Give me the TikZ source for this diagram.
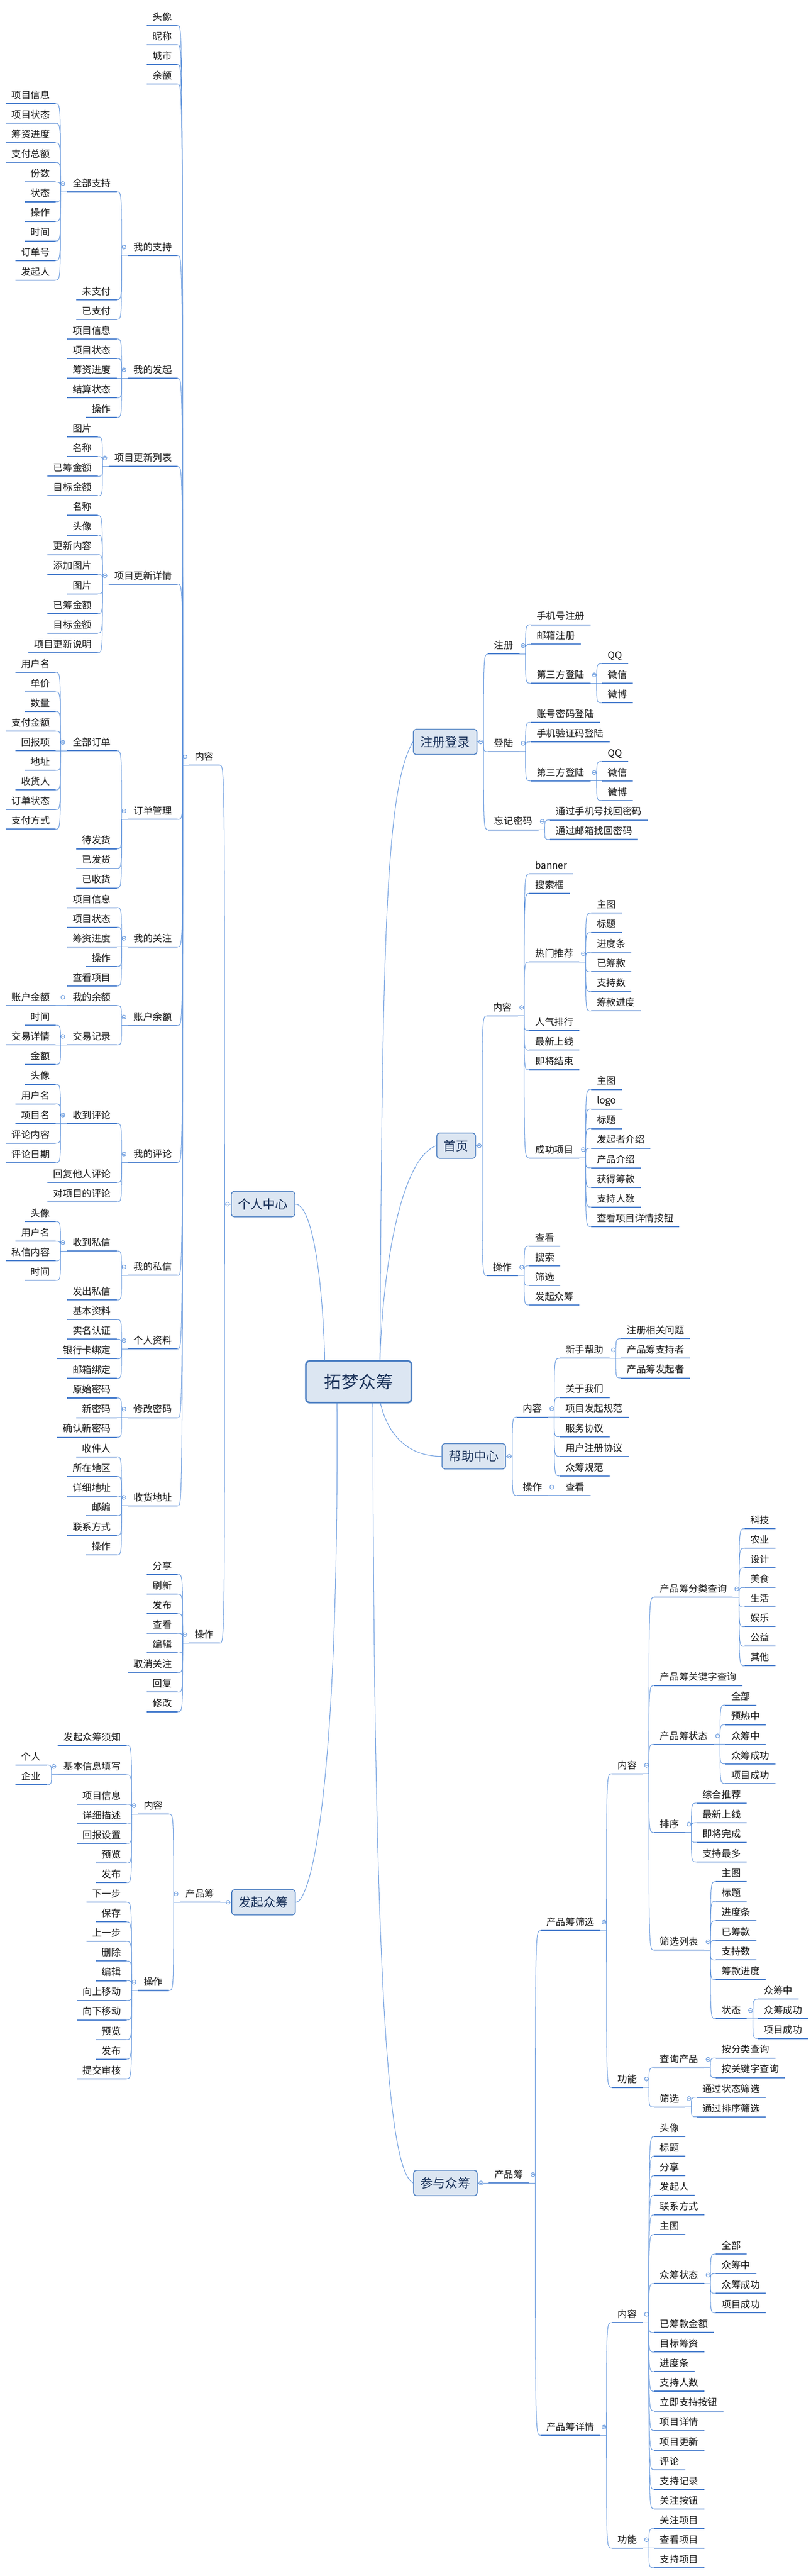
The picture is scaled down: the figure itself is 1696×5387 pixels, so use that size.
\documentclass[tikz,border=0pt]{standalone}
\usepackage{fontspec}
\newfontfamily\cjk{Noto Sans CJK SC}
\definecolor{ulc}{RGB}{79,130,207}
\definecolor{cnc}{RGB}{96,148,220}
\definecolor{boxf}{RGB}{220,230,242}
\definecolor{boxc}{RGB}{79,129,195}
\definecolor{boxt}{RGB}{26,50,90}
\newcommand\xtf{\cjk\fontsize{10pt}{12pt}\selectfont}
\newcommand\xmf{\cjk\fontsize{13pt}{15pt}\selectfont}
\newcommand\xcf{\cjk\fontsize{18pt}{21pt}\selectfont}
\tikzset{
  uline/.style={draw=ulc, line width=1.1pt},
  conn/.style={draw=cnc, line width=0.55pt},
  topic/.style={inner xsep=6pt, inner ysep=0pt, text height=9pt, text depth=5pt, font=\xtf, text=black!92},
  lnode/.style={topic, anchor=south east},
  rnode/.style={topic, anchor=south west},
  mainbox/.style={draw=boxc, line width=0.9pt, fill=boxf, rounded corners=3pt, font=\xmf, text=boxt, minimum height=26.5pt, inner xsep=7.25pt, inner ysep=0pt},
}
\newcommand\xfold[1]{\draw[conn,fill=white] (#1) circle (2.1pt); \draw[conn] ([xshift=-1.3pt]#1) -- ([xshift=1.3pt]#1);}
\newcommand\xlp[1]{\draw[conn] (#1.south west) -- ++(-13,0) coordinate (#1j);
  \path (#1.south west) ++(-8,-17.6) coordinate (#1f); \xfold{#1f}}
\newcommand\xrp[1]{\draw[conn] (#1.south east) -- ++(13,0) coordinate (#1j);
  \path (#1.south east) ++(8,-17.6) coordinate (#1f); \xfold{#1f}}
\newcommand\xlbp[1]{\draw[conn] (#1.west) -- ++(-13,0) coordinate (#1j);
  \path (#1.west) ++(-7,0) coordinate (#1f); \xfold{#1f}}
\newcommand\xrbp[1]{\draw[conn] (#1.east) -- ++(13,0) coordinate (#1j);
  \path (#1.east) ++(7,0) coordinate (#1f); \xfold{#1f}}
\newcommand\xl[4]{\path (#2.south west) ++(-23,0) coordinate (tmp); \path (0,#3) coordinate (tmpy);
  \node[lnode] (#1) at (tmp |- tmpy) {#4};
  \draw[uline] (#1.south west) -- (#1.south east);
  \draw[conn] (#2j) .. controls (#2j |- #1.south east) .. (#1.south east);}
\newcommand\xlB[4]{\path (#2.west) ++(-23,0) coordinate (tmp); \path (0,#3) coordinate (tmpy);
  \node[lnode] (#1) at (tmp |- tmpy) {#4};
  \draw[uline] (#1.south west) -- (#1.south east);
  \draw[conn] (#2j) .. controls (#2j |- #1.south east) .. (#1.south east);}
\newcommand\xr[4]{\path (#2.south east) ++(24,0) coordinate (tmp); \path (0,#3) coordinate (tmpy);
  \node[rnode] (#1) at (tmp |- tmpy) {#4};
  \draw[uline] (#1.south west) -- (#1.south east);
  \draw[conn] (#2j) .. controls (#2j |- #1.south west) .. (#1.south west);}
\newcommand\xrB[4]{\path (#2.east) ++(23,0) coordinate (tmp); \path (0,#3) coordinate (tmpy);
  \node[rnode] (#1) at (tmp |- tmpy) {#4};
  \draw[uline] (#1.south west) -- (#1.south east);
  \draw[conn] (#2j) .. controls (#2j |- #1.south west) .. (#1.south west);}
\begin{document}
\begin{tikzpicture}[x=0.5pt,y=-0.5pt]
\path[use as bounding box, fill=white] (0,0) rectangle (1696,5387);
% ---------- main boxes ----------
\node[mainbox, anchor=west] (M1) at (483,2518) {个人中心};
\node[mainbox, anchor=west] (M2) at (484,3978) {发起众筹};
\node[mainbox, anchor=west] (R1) at (864,1551.4) {注册登录};
\node[mainbox, anchor=west] (R2) at (913,2396) {首页};
\node[mainbox, anchor=west] (R3) at (924,3045.5) {帮助中心};
\node[mainbox, anchor=west] (R4) at (864.5,4565.1) {参与众筹};
% ---------- center curves ----------
\draw[conn] (795,2850) .. controls (800,2000) and (805,1650) .. (R1.west);
\draw[conn] (795,2850) .. controls (800,2650) and (840,2420) .. (R2.west);
\draw[conn] (790,2900) .. controls (800,2990) and (845,3045.5) .. (R3.west);
\draw[conn] (780,2920) .. controls (782,4200) and (815,4540) .. (R4.west);
\draw[conn] (680,2860) .. controls (675,2650) and (650,2518) .. (M1.east);
\draw[conn] (705,2920) .. controls (710,3750) and (650,3978) .. (M2.east);
\node[mainbox, font=\xcf, line width=1.8pt, rounded corners=4pt, minimum width=110.5pt, minimum height=43.5pt] (C) at (750.5,2889.6) {拓梦众筹};
% ---------- 个人中心 ----------
\xlbp{M1}
\xlB{a}{M1}{1600.4}{内容}
\xlB{b}{M1}{3436}{操作}
\xlp{a}
\xl{a1}{a}{52.7}{头像}
\xl{a2}{a}{93.7}{昵称}
\xl{a3}{a}{134.7}{城市}
\xl{a4}{a}{175.7}{余额}
\xl{a5}{a}{534.3}{我的支持}
\xl{a6}{a}{790.9}{我的发起}
\xl{a7}{a}{975.4}{项目更新列表}
\xl{a8}{a}{1221.4}{项目更新详情}
\xl{a9}{a}{1713.4}{订单管理}
\xl{aa}{a}{1980}{我的关注}
\xl{ab}{a}{2144.6}{账户余额}
\xl{ac}{a}{2431}{我的评论}
\xl{ad}{a}{2667}{我的私信}
\xl{ae}{a}{2821}{个人资料}
\xl{af}{a}{2964.5}{修改密码}
\xl{ag}{a}{3149}{收货地址}
\xlp{a5}
\xl{a5a}{a5}{401.3}{全部支持}
\xl{a5b}{a5}{626.8}{未支付}
\xl{a5c}{a5}{667.8}{已支付}
\xlp{a5a}
\xl{s1}{a5a}{216.8}{项目信息}
\xl{s2}{a5a}{257.8}{项目状态}
\xl{s3}{a5a}{298.8}{筹资进度}
\xl{s4}{a5a}{339.8}{支付总额}
\xl{s5}{a5a}{380.8}{份数}
\xl{s6}{a5a}{421.8}{状态}
\xl{s7}{a5a}{462.8}{操作}
\xl{s8}{a5a}{503.8}{时间}
\xl{s9}{a5a}{544.8}{订单号}
\xl{s10}{a5a}{585.8}{发起人}
\xlp{a6}
\xl{t1}{a6}{708.8}{项目信息}
\xl{t2}{a6}{749.9}{项目状态}
\xl{t3}{a6}{790.9}{筹资进度}
\xl{t4}{a6}{831.9}{结算状态}
\xl{t5}{a6}{872.9}{操作}
\xlp{a7}
\xl{u1}{a7}{913.9}{图片}
\xl{u2}{a7}{954.9}{名称}
\xl{u3}{a7}{995.9}{已筹金额}
\xl{u4}{a7}{1036.9}{目标金额}
\xlp{a8}
\xl{v1}{a8}{1077.9}{名称}
\xl{v2}{a8}{1118.9}{头像}
\xl{v3}{a8}{1159.9}{更新内容}
\xl{v4}{a8}{1200.9}{添加图片}
\xl{v5}{a8}{1241.9}{图片}
\xl{v6}{a8}{1282.9}{已筹金额}
\xl{v7}{a8}{1323.9}{目标金额}
\xl{v8}{a8}{1364.9}{项目更新说明}
\xlp{a9}
\xl{a9a}{a9}{1569.9}{全部订单}
\xl{a9b}{a9}{1775}{待发货}
\xl{a9c}{a9}{1816}{已发货}
\xl{a9d}{a9}{1857}{已收货}
\xlp{a9a}
\xl{w1}{a9a}{1405.9}{用户名}
\xl{w2}{a9a}{1446.9}{单价}
\xl{w3}{a9a}{1487.9}{数量}
\xl{w4}{a9a}{1528.9}{支付金额}
\xl{w5}{a9a}{1569.9}{回报项}
\xl{w6}{a9a}{1610.9}{地址}
\xl{w7}{a9a}{1651.9}{收货人}
\xl{w8}{a9a}{1692.9}{订单状态}
\xl{w9}{a9a}{1733.9}{支付方式}
\xlp{aa}
\xl{x1}{aa}{1898}{项目信息}
\xl{x2}{aa}{1939}{项目状态}
\xl{x3}{aa}{1980}{筹资进度}
\xl{x4}{aa}{2021}{操作}
\xl{x5}{aa}{2062}{查看项目}
\xlp{ab}
\xl{aba}{ab}{2103}{我的余额}
\xl{abb}{ab}{2185}{交易记录}
\xlp{aba}
\xl{y1}{aba}{2103}{账户金额}
\xlp{abb}
\xl{y2}{abb}{2144}{时间}
\xl{y3}{abb}{2185}{交易详情}
\xl{y4}{abb}{2226}{金额}
\xlp{ac}
\xl{aca}{ac}{2349.5}{收到评论}
\xl{acb}{ac}{2472.5}{回复他人评论}
\xl{acc}{ac}{2513.5}{对项目的评论}
\xlp{aca}
\xl{z1}{aca}{2267.5}{头像}
\xl{z2}{aca}{2308.5}{用户名}
\xl{z3}{aca}{2349.5}{项目名}
\xl{z4}{aca}{2390.5}{评论内容}
\xl{z5}{aca}{2431.5}{评论日期}
\xlp{ad}
\xl{ada}{ad}{2616}{收到私信}
\xl{adb}{ad}{2718.5}{发出私信}
\xlp{ada}
\xl{q1}{ada}{2554.5}{头像}
\xl{q2}{ada}{2595.5}{用户名}
\xl{q3}{ada}{2636.5}{私信内容}
\xl{q4}{ada}{2677.5}{时间}
\xlp{ae}
\xl{r1}{ae}{2759.5}{基本资料}
\xl{r2}{ae}{2800.5}{实名认证}
\xl{r3}{ae}{2841.5}{银行卡绑定}
\xl{r4}{ae}{2882.5}{邮箱绑定}
\xlp{af}
\xl{p1}{af}{2923.5}{原始密码}
\xl{p2}{af}{2964.5}{新密码}
\xl{p3}{af}{3005.5}{确认新密码}
\xlp{ag}
\xl{o1}{ag}{3046.5}{收件人}
\xl{o2}{ag}{3087.5}{所在地区}
\xl{o3}{ag}{3128.5}{详细地址}
\xl{o4}{ag}{3169.6}{邮编}
\xl{o5}{ag}{3210.6}{联系方式}
\xl{o6}{ag}{3251.6}{操作}
\xlp{b}
\xl{n1}{b}{3292.6}{分享}
\xl{n2}{b}{3333.6}{刷新}
\xl{n3}{b}{3374.6}{发布}
\xl{n4}{b}{3415.6}{查看}
\xl{n5}{b}{3456.6}{编辑}
\xl{n6}{b}{3497.6}{取消关注}
\xl{n7}{b}{3538.6}{回复}
\xl{n8}{b}{3579.6}{修改}
% ---------- 发起众筹 ----------
\xlbp{M2}
\xlB{c}{M2}{3978}{产品筹}
\xlp{c}
\xl{c1}{c}{3793.5}{内容}
\xl{c2}{c}{4162.5}{操作}
\xlp{c1}
\xl{ca}{c1}{3650}{发起众筹须知}
\xl{cb}{c1}{3711.5}{基本信息填写}
\xl{cc}{c1}{3773}{项目信息}
\xl{cd}{c1}{3814}{详细描述}
\xl{ce}{c1}{3855}{回报设置}
\xl{cf}{c1}{3896}{预览}
\xl{cg}{c1}{3937}{发布}
\xlp{cb}
\xl{cb1}{cb}{3691}{个人}
\xl{cb2}{cb}{3732}{企业}
\xlp{c2}
\xl{m1}{c2}{3978}{下一步}
\xl{m2}{c2}{4019}{保存}
\xl{m3}{c2}{4060}{上一步}
\xl{m4}{c2}{4101}{删除}
\xl{m5}{c2}{4142}{编辑}
\xl{m6}{c2}{4183}{向上移动}
\xl{m7}{c2}{4224}{向下移动}
\xl{m8}{c2}{4265}{预览}
\xl{m9}{c2}{4306}{发布}
\xl{m10}{c2}{4347}{提交审核}
% ---------- 注册登录 ----------
\xrbp{R1}
\xrB{d1}{R1}{1367.7}{注册}
\xrB{d2}{R1}{1571.9}{登陆}
\xrB{d3}{R1}{1735.2}{忘记密码}
\xrp{d1}
\xr{d1a}{d1}{1306.4}{手机号注册}
\xr{d1b}{d1}{1347.2}{邮箱注册}
\xr{d1c}{d1}{1428.9}{第三方登陆}
\xrp{d1c}
\xr{d1c1}{d1c}{1388.1}{QQ}
\xr{d1c2}{d1c}{1428.9}{微信}
\xr{d1c3}{d1c}{1469.8}{微博}
\xrp{d2}
\xr{d2a}{d2}{1510.6}{账号密码登陆}
\xr{d2b}{d2}{1551.4}{手机验证码登陆}
\xr{d2c}{d2}{1633.1}{第三方登陆}
\xrp{d2c}
\xr{d2c1}{d2c}{1592.3}{QQ}
\xr{d2c2}{d2c}{1633.1}{微信}
\xr{d2c3}{d2c}{1674}{微博}
\xrp{d3}
\xr{d3a}{d3}{1714.8}{通过手机号找回密码}
\xr{d3b}{d3}{1755.6}{通过邮箱找回密码}
% ---------- 首页 ----------
\xrbp{R2}
\xrB{e1}{R2}{2124.5}{内容}
\xrB{e2}{R2}{2667.5}{操作}
\xrp{e1}
\xr{e1a}{e1}{1827.4}{banner}
\xr{e1b}{e1}{1868.4}{搜索框}
\xr{e1c}{e1}{2011.8}{热门推荐}
\xr{e1d}{e1}{2155.2}{人气排行}
\xr{e1e}{e1}{2196.2}{最新上线}
\xr{e1f}{e1}{2237.2}{即将结束}
\xr{e1g}{e1}{2421.6}{成功项目}
\xrp{e1c}
\xr{hc1}{e1c}{1909.4}{主图}
\xr{hc2}{e1c}{1950.3}{标题}
\xr{hc3}{e1c}{1991.3}{进度条}
\xr{hc4}{e1c}{2032.3}{已筹款}
\xr{hc5}{e1c}{2073.3}{支持数}
\xr{hc6}{e1c}{2114.3}{筹款进度}
\xrp{e1g}
\xr{sg1}{e1g}{2278.2}{主图}
\xr{sg2}{e1g}{2319.2}{logo}
\xr{sg3}{e1g}{2360.1}{标题}
\xr{sg4}{e1g}{2401.1}{发起者介绍}
\xr{sg5}{e1g}{2442.1}{产品介绍}
\xr{sg6}{e1g}{2483.1}{获得筹款}
\xr{sg7}{e1g}{2524.1}{支持人数}
\xr{sg8}{e1g}{2565}{查看项目详情按钮}
\xrp{e2}
\xr{e2a}{e2}{2606}{查看}
\xr{e2b}{e2}{2647}{搜索}
\xr{e2c}{e2}{2688}{筛选}
\xr{e2d}{e2}{2729}{发起众筹}
% ---------- 帮助中心 ----------
\xrbp{R3}
\xrB{f1}{R3}{2963.5}{内容}
\xrB{f2}{R3}{3127.5}{操作}
\xrp{f1}
\xr{f1a}{f1}{2840.5}{新手帮助}
\xr{f1b}{f1}{2922.5}{关于我们}
\xr{f1c}{f1}{2963.5}{项目发起规范}
\xr{f1d}{f1}{3004.5}{服务协议}
\xr{f1e}{f1}{3045.5}{用户注册协议}
\xr{f1f}{f1}{3086.5}{众筹规范}
\xrp{f1a}
\xr{f1a1}{f1a}{2799.5}{注册相关问题}
\xr{f1a2}{f1a}{2840.5}{产品筹支持者}
\xr{f1a3}{f1a}{2881.5}{产品筹发起者}
\xrp{f2}
\xr{f2a}{f2}{3127.5}{查看}
% ---------- 参与众筹 ----------
\xrbp{R4}
\xrB{g}{R4}{4565.1}{产品筹}
\xrp{g}
\xr{g1}{g}{4037.2}{产品筹筛选}
\xr{g2}{g}{5093}{产品筹详情}
\xrp{g1}
\xr{g1a}{g1}{3709.2}{内容}
\xr{g1b}{g1}{4365.2}{功能}
\xrp{g1a}
\xr{h1}{g1a}{3340.2}{产品筹分类查询}
\xr{h2}{g1a}{3524.7}{产品筹关键字查询}
\xr{h3}{g1a}{3647.7}{产品筹状态}
\xr{h4}{g1a}{3832.2}{排序}
\xr{h5}{g1a}{4078.2}{筛选列表}
\xrp{h1}
\xr{k1a}{h1}{3196.7}{科技}
\xr{k1b}{h1}{3237.7}{农业}
\xr{k1c}{h1}{3278.7}{设计}
\xr{k1d}{h1}{3319.7}{美食}
\xr{k1e}{h1}{3360.7}{生活}
\xr{k1f}{h1}{3401.7}{娱乐}
\xr{k1g}{h1}{3442.7}{公益}
\xr{k1h}{h1}{3483.7}{其他}
\xrp{h3}
\xr{k3a}{h3}{3565.7}{全部}
\xr{k3b}{h3}{3606.7}{预热中}
\xr{k3c}{h3}{3647.7}{众筹中}
\xr{k3d}{h3}{3688.7}{众筹成功}
\xr{k3e}{h3}{3729.7}{项目成功}
\xrp{h4}
\xr{k4a}{h4}{3770.7}{综合推荐}
\xr{k4b}{h4}{3811.7}{最新上线}
\xr{k4c}{h4}{3852.7}{即将完成}
\xr{k4d}{h4}{3893.7}{支持最多}
\xrp{h5}
\xr{k5a}{h5}{3934.7}{主图}
\xr{k5b}{h5}{3975.7}{标题}
\xr{k5c}{h5}{4016.7}{进度条}
\xr{k5d}{h5}{4057.7}{已筹款}
\xr{k5e}{h5}{4098.7}{支持数}
\xr{k5f}{h5}{4139.7}{筹款进度}
\xr{k5g}{h5}{4221.7}{状态}
\xrp{k5g}
\xr{k6a}{k5g}{4180.7}{众筹中}
\xr{k6b}{k5g}{4221.7}{众筹成功}
\xr{k6c}{k5g}{4262.7}{项目成功}
\xrp{g1b}
\xr{j1}{g1b}{4324.2}{查询产品}
\xr{j2}{g1b}{4406.2}{筛选}
\xrp{j1}
\xr{j1a}{j1}{4303.7}{按分类查询}
\xr{j1b}{j1}{4344.7}{按关键字查询}
\xrp{j2}
\xr{j2a}{j2}{4385.7}{通过状态筛选}
\xr{j2b}{j2}{4426.7}{通过排序筛选}
\xrp{g2}
\xr{g2a}{g2}{4857.2}{内容}
\xr{g2b}{g2}{5328.7}{功能}
\xrp{g2a}
\xr{i1}{g2a}{4467.7}{头像}
\xr{i2}{g2a}{4508.7}{标题}
\xr{i3}{g2a}{4549.7}{分享}
\xr{i4}{g2a}{4590.7}{发起人}
\xr{i5}{g2a}{4631.7}{联系方式}
\xr{i6}{g2a}{4672.7}{主图}
\xr{i7}{g2a}{4775.2}{众筹状态}
\xr{i8}{g2a}{4877.7}{已筹款金额}
\xr{i9}{g2a}{4918.7}{目标筹资}
\xr{i10}{g2a}{4959.7}{进度条}
\xr{i11}{g2a}{5000.7}{支持人数}
\xr{i12}{g2a}{5041.7}{立即支持按钮}
\xr{i13}{g2a}{5082.7}{项目详情}
\xr{i14}{g2a}{5123.7}{项目更新}
\xr{i15}{g2a}{5164.7}{评论}
\xr{i16}{g2a}{5205.7}{支持记录}
\xr{i17}{g2a}{5246.7}{关注按钮}
\xrp{i7}
\xr{i7a}{i7}{4713.7}{全部}
\xr{i7b}{i7}{4754.7}{众筹中}
\xr{i7c}{i7}{4795.7}{众筹成功}
\xr{i7d}{i7}{4836.7}{项目成功}
\xrp{g2b}
\xr{g2b1}{g2b}{5287.7}{关注项目}
\xr{g2b2}{g2b}{5328.7}{查看项目}
\xr{g2b3}{g2b}{5369.7}{支持项目}
\end{tikzpicture}
\end{document}
